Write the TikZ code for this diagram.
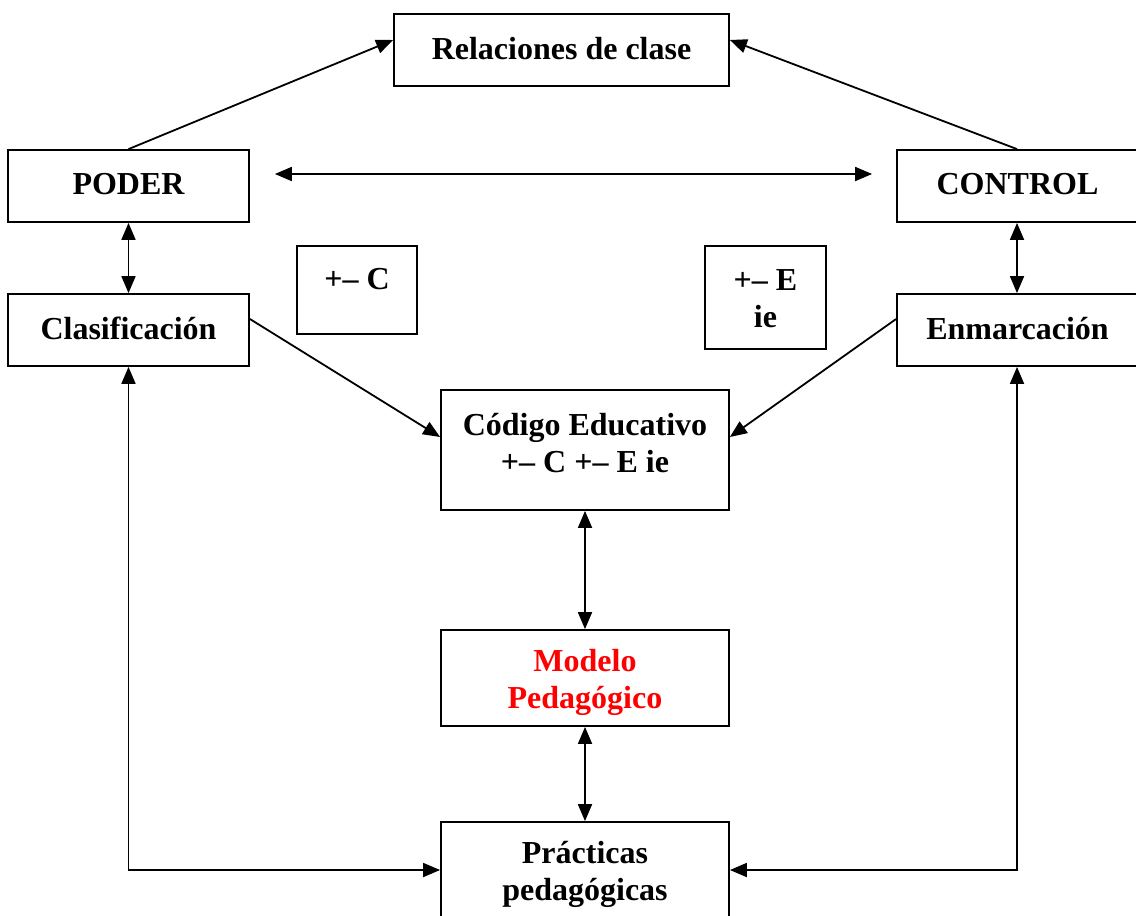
\documentclass[tikz,border=0pt]{standalone}
\usepackage{fontspec}
\setmainfont{Liberation Serif}
\usetikzlibrary{arrows.meta}
\begin{document}
\begin{tikzpicture}[x=1pt,y=-1pt,
  box/.style={draw,line width=1.8pt,rectangle,inner sep=0pt,align=center,
    font=\fontsize{32}{37}\selectfont\bfseries},
  lbl/.style={inner sep=0pt,align=center,font=\fontsize{32}{37}\selectfont\bfseries},
  conn/.style={line width=1.8pt,-{Triangle[length=17pt,width=14pt]}},
  dconn/.style={line width=1.8pt,{Triangle[length=17pt,width=14pt]}-{Triangle[length=17pt,width=14pt]}}]
\useasboundingbox[fill=white] (0,0) rectangle (1136,916);
% boxes
\node[box,minimum width=335pt,minimum height=72pt] (rel) at (561.5,50) {\raisebox{4pt}{Relaciones de clase}};
\node[box,minimum width=241pt,minimum height=72pt] (poder) at (128.5,186) {\raisebox{4pt}{PODER}};
\node[box,minimum width=250pt,minimum height=72pt] (control) at (1022,186) {\hspace*{-9pt}\raisebox{4pt}{CONTROL}};
\node[box,minimum width=241pt,minimum height=72pt] (clas) at (128.5,330) {\raisebox{4pt}{Clasificación}};
\node[box,minimum width=250pt,minimum height=72pt] (enm) at (1022,330) {\hspace*{-9pt}\raisebox{4pt}{Enmarcación}};
\node[box,minimum width=120pt,minimum height=88pt] (bc) at (357,290) {};
\node[lbl] (bctxt) at (357,279) {+– C};
\node[box,minimum width=121pt,minimum height=103pt] (be) at (765.5,297.5) {};
\node[lbl] (betxt) at (765.5,299) {+– E\\ie};
\node[box,minimum width=288pt,minimum height=120pt] (cod) at (585,450) {};
\node[lbl] (codtxt) at (585,443) {Código Educativo\\+– C +– E ie};
\node[box,minimum width=288pt,minimum height=96pt] (mod) at (585,678) {};
\node[lbl,text=red] (modtxt) at (585,682) {Modelo\\Pedagógico};
\node[box,minimum width=288pt,minimum height=96pt] (prac) at (585,870) {};
\node[lbl] (practxt) at (585,874) {Prácticas\\pedagógicas};
% connectors
\draw[conn] (poder.north) -- ([yshift=10pt]rel.west);
\draw[conn] ([xshift=-5pt]control.north) -- ([yshift=10pt]rel.east);
\draw[dconn] ([xshift=25pt,yshift=12pt]poder.east) -- ([xshift=-24pt,yshift=12pt]control.west);
\draw[dconn] (poder.south) -- (clas.north);
\draw[dconn] ([xshift=-5pt]control.south) -- ([xshift=-5pt]enm.north);
\draw[conn] ([yshift=11pt]clas.east) -- ([yshift=13pt]cod.west);
\draw[conn] ([yshift=11pt]enm.west) -- ([yshift=13pt]cod.east);
\draw[dconn] (cod.south) -- (mod.north);
\draw[dconn] (mod.south) -- (prac.north);
\draw[dconn] (clas.south) |- (prac.west);
\draw[dconn] ([xshift=-5pt]enm.south) |- (prac.east);
\end{tikzpicture}
\end{document}
